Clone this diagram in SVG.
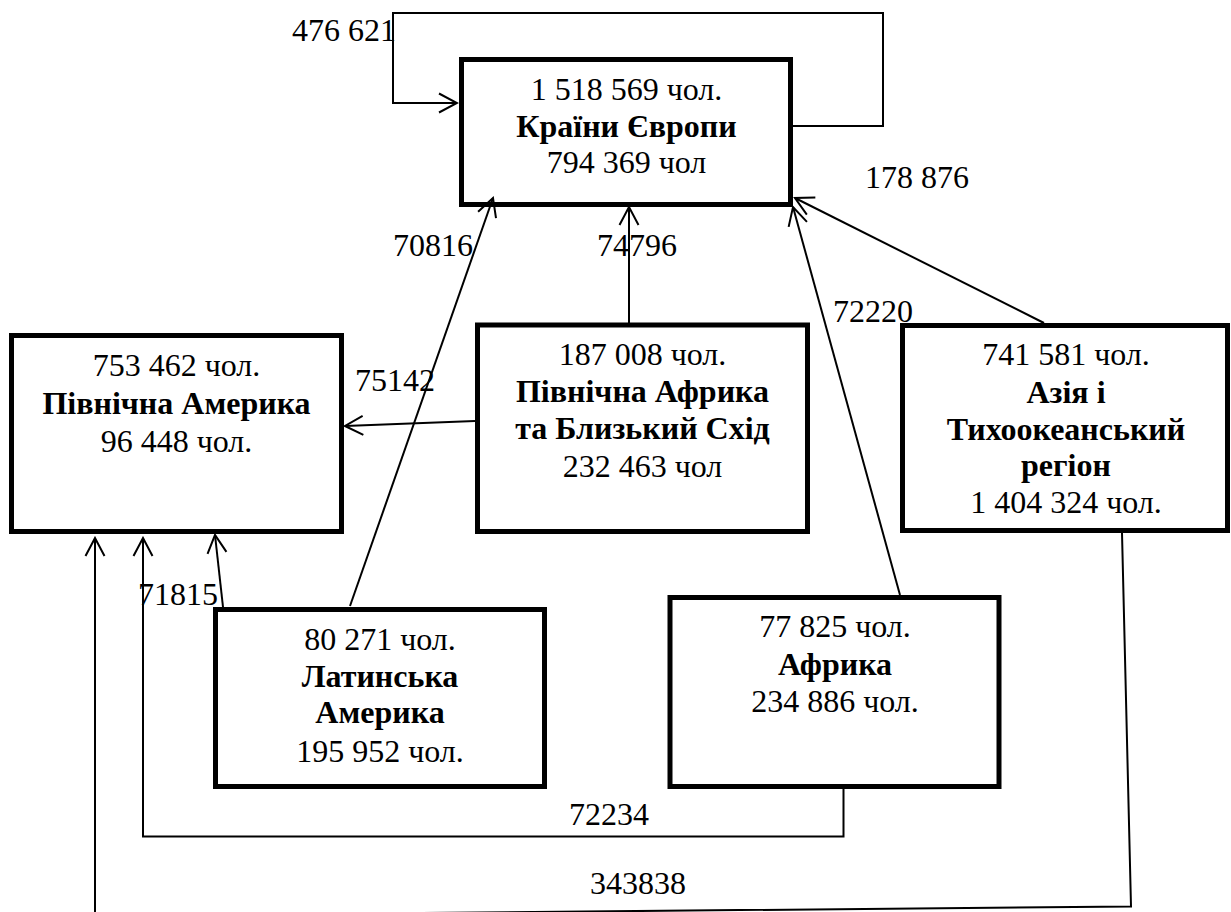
<svg xmlns="http://www.w3.org/2000/svg" width="1231" height="912" viewBox="0 0 1231 912">
<style>
text{font-family:"Liberation Serif","Times New Roman",serif;font-size:32px;fill:#000}
.c{text-anchor:middle}
.b{font-weight:bold}
.box{fill:#fff;stroke:#000;stroke-width:5}
.ln{fill:none;stroke:#000;stroke-width:2}
</style>
<defs>
<marker id="arr" viewBox="-20 -12 22 24" markerWidth="22" markerHeight="24" refX="0" refY="0" markerUnits="userSpaceOnUse" orient="auto">
<path d="M-18,-9.5 L0,0 L-18,9.5" fill="none" stroke="#000" stroke-width="2"/>
</marker>
</defs>
<rect width="1231" height="912" fill="#fff"/>
<g id="europe">
<rect class="box" x="461.5" y="59.5" width="329" height="145"/>
<text class="c" x="626.5" y="100">1 518 569 чол.</text>
<text class="c b" x="626.5" y="137">Країни Європи</text>
<text class="c" x="626.5" y="173">794 369 чол</text>
</g>
<g id="north-america">
<rect class="box" x="11.5" y="335.5" width="330" height="196"/>
<text class="c" x="176.5" y="376">753 462 чол.</text>
<text class="c b" x="176.5" y="414">Північна Америка</text>
<text class="c" x="176.5" y="452">96 448 чол.</text>
</g>
<g id="north-africa">
<rect class="box" x="477.5" y="325" width="330" height="206.5"/>
<text class="c" x="642.5" y="365">187 008 чол.</text>
<text class="c b" x="642.5" y="402">Північна Африка</text>
<text class="c b" x="642.5" y="439">та Близький Схід</text>
<text class="c" x="642.5" y="477">232 463 чол</text>
</g>
<g id="asia">
<rect class="box" x="902.5" y="325.5" width="325" height="205"/>
<text class="c" x="1066" y="365">741 581 чол.</text>
<text class="c b" x="1066" y="403">Азія і</text>
<text class="c b" x="1066" y="440">Тихоокеанський</text>
<text class="c b" x="1066" y="476">регіон</text>
<text class="c" x="1066" y="513">1 404 324 чол.</text>
</g>
<g id="latin-america">
<rect class="box" x="215.5" y="609.5" width="329" height="177"/>
<text class="c" x="380" y="650">80 271 чол.</text>
<text class="c b" x="380" y="687">Латинська</text>
<text class="c b" x="380" y="723">Америка</text>
<text class="c" x="380" y="762">195 952 чол.</text>
</g>
<g id="africa">
<rect class="box" x="670" y="597.5" width="329" height="189"/>
<text class="c" x="835" y="637">77 825 чол.</text>
<text class="c b" x="835" y="675">Африка</text>
<text class="c" x="835" y="712">234 886 чол.</text>
</g>
<g id="connectors">
<path class="ln" d="M793,126 H883 V13 H393 V103 H457" marker-end="url(#arr)"/>
<path class="ln" d="M350,606 L493,198" marker-end="url(#arr)"/>
<path class="ln" d="M629,323 L629,207" marker-end="url(#arr)"/>
<path class="ln" d="M900,595 L793,207" marker-end="url(#arr)"/>
<path class="ln" d="M1044,323 L795,198" marker-end="url(#arr)"/>
<path class="ln" d="M475,421 L345,426" marker-end="url(#arr)"/>
<path class="ln" d="M223,607 L215,535" marker-end="url(#arr)"/>
<path class="ln" d="M843.5,788 V836.5 H143 V538" marker-end="url(#arr)"/>
<path class="ln" d="M1122,533 L1131,906.5 L95,916 V538" marker-end="url(#arr)"/>
<text x="292" y="41">476 621</text>
<text x="865" y="188">178 876</text>
<text x="393" y="256">70816</text>
<text x="597" y="256">74796</text>
<text x="833" y="322">72220</text>
<text x="355" y="391">75142</text>
<text x="138" y="605">71815</text>
<text x="569" y="825">72234</text>
<text x="590" y="894">343838</text>
</g>
</svg>
